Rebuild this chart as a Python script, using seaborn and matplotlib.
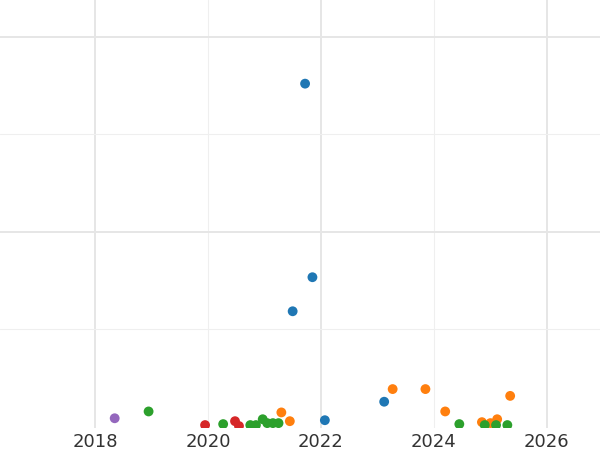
import matplotlib
matplotlib.use("Agg")
import matplotlib.pyplot as plt
import seaborn as sns
import pandas as pd

blue_x = [2021.72, 2021.85, 2021.5, 2022.07, 2023.12]
blue_y = [352, 153, 118, 6, 25]
orange_x = [2023.27, 2023.85, 2024.2, 2024.85, 2025.0, 2025.12, 2025.35, 2021.3, 2021.45]
orange_y = [38, 38, 15, 4, 3, 7, 31, 14, 5]
green_x = [2018.95, 2020.27, 2020.75, 2020.85, 2020.97, 2021.05, 2021.15, 2021.25, 2024.45, 2024.9, 2025.1, 2025.3]
green_y = [15, 2, 1, 1, 7, 3, 3, 3, 2, 1, 1, 1]
red_x = [2019.95, 2020.48, 2020.55]
red_y = [1, 5, 0]
purple_x = [2018.35]
purple_y = [8]

rows = []
for name, xs, ys in [("A", blue_x, blue_y), ("B", orange_x, orange_y), ("C", green_x, green_y),
                     ("D", red_x, red_y), ("E", purple_x, purple_y)]:
    rows += [{"x": a, "y": b, "g": name} for a, b in zip(xs, ys)]
df = pd.DataFrame(rows)

sns.set_theme(style="white")
fig = plt.figure(figsize=(6, 4.5), dpi=100)
ax = fig.add_axes([0, 0.05, 1, 0.95])
sns.scatterplot(data=df, x="x", y="y", hue="g", palette=sns.color_palette("tab10", 5),
                s=50, edgecolor="none", legend=False, ax=ax, zorder=3)
ax.set_xlim(2016.32, 2026.94)
ax.set_ylim(-1.5, 438)
ax.set_xticks([2018, 2022, 2026])
ax.set_xticks([2020, 2024], minor=True)
ax.set_xticklabels(["2018", "2022", "2026"])
ax.set_xticklabels(["2020", "2024"], minor=True)
ax.set_yticks([200, 400])
ax.set_yticks([100, 300], minor=True)
ax.set_yticklabels([])
ax.grid(True, which="major", color="#e6e6e6", linewidth=1.4)
ax.grid(True, which="minor", color="#efefef", linewidth=0.8)
ax.tick_params(axis="x", which="both", labelsize=13, colors="#333333", pad=4, length=0)
ax.tick_params(axis="y", which="both", length=0)
ax.set_xlabel(""); ax.set_ylabel("")
for s in ax.spines.values():
    s.set_visible(False)
fig.savefig("out.png")
